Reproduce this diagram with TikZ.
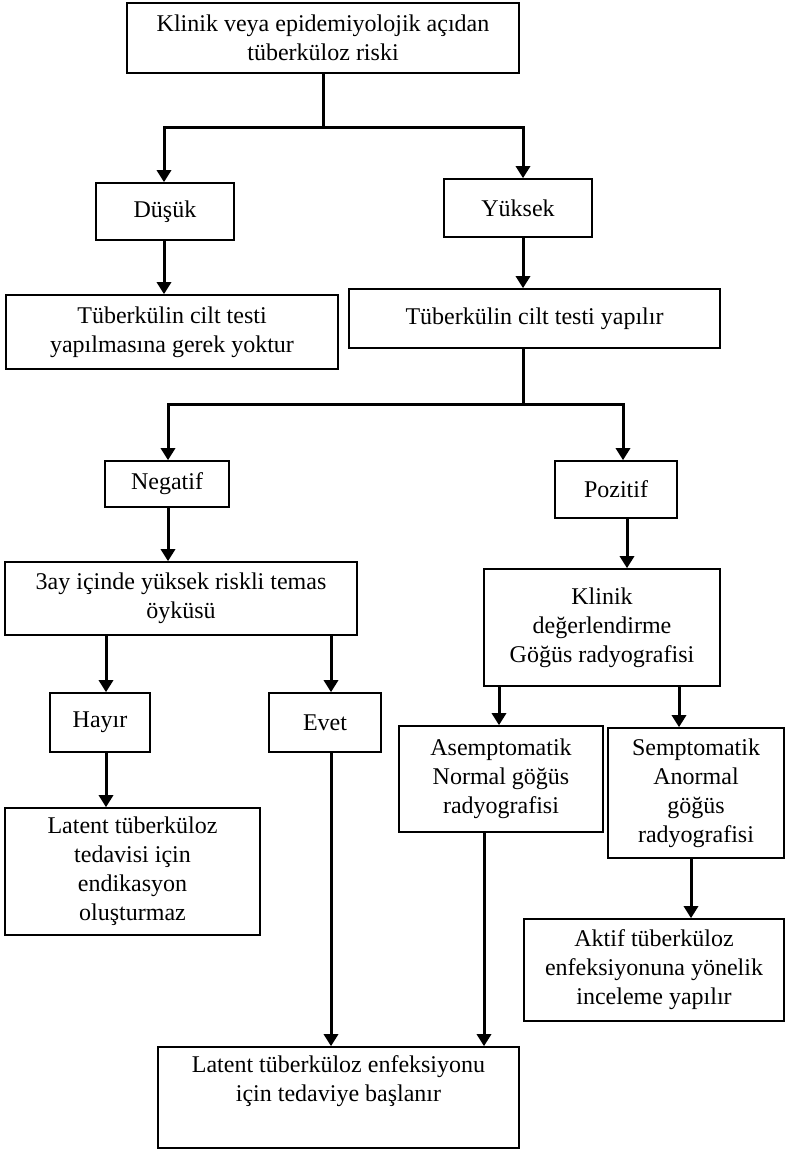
\documentclass[tikz,border=0pt]{standalone}
\usepackage{fontspec}
\setmainfont{Liberation Serif}
\usetikzlibrary{arrows.meta}
\begin{document}
\begin{tikzpicture}[x=0.5pt,y=-0.5pt,
  bx/.style={draw, line width=0.8pt, align=center, inner sep=0pt, font=\fontsize{12}{14.5}\selectfont},
  ln/.style={line width=1.5pt},
  arr/.style={line width=1.5pt, -{Triangle[length=6pt,width=7pt]}}
]
\useasboundingbox (0,0) rectangle (785,1150);

\node[bx, minimum width=196pt, minimum height=35pt] (top) at (323,38) {Klinik veya epidemiyolojik açıdan\\ tüberküloz riski};
\node[bx, minimum width=69pt, minimum height=28.5pt] (dus) at (165,211.5) {Düşük};
\node[bx, minimum width=74pt, minimum height=29pt] (yuk) at (518,208) {Yüksek};
\node[bx, minimum width=166pt, minimum height=37pt] (tst0) at (172,332) {Tüberkülin cilt testi\\ yapılmasına gerek yoktur};
\node[bx, minimum width=185.5pt, minimum height=29.5pt] (tst) at (534.5,318.5) {Tüberkülin cilt testi yapılır};
\node[bx, minimum width=62pt, minimum height=23pt] (neg) at (167,484) {Negatif};
\node[bx, minimum width=61pt, minimum height=28.5pt] (poz) at (616,489.5) {Pozitif};
\node[bx, minimum width=176pt, minimum height=36.5pt] (ay) at (181,598.5) {3ay içinde yüksek riskli temas\\ öyküsü};
\node[bx, minimum width=118pt, minimum height=58.5pt] (klin) at (602,627.5) {Klinik\\ değerlendirme\\ Göğüs radyografisi};
\node[bx, minimum width=50pt, minimum height=29.5pt] (hay) at (100,722.5) {Hayır};
\node[bx, minimum width=56pt, minimum height=29.5pt] (evt) at (325,722.5) {Evet};
\node[bx, minimum width=102pt, minimum height=53pt] (asm) at (501,779) {Asemptomatik\\ Normal göğüs\\ radyografisi};
\node[bx, minimum width=88pt, minimum height=65pt] (sem) at (696,793) {Semptomatik\\ Anormal\\ göğüs\\ radyografisi};
\node[bx, minimum width=127.5pt, minimum height=63.5pt] (lat) at (132.5,871.5) {Latent tüberküloz\\ tedavisi için\\ endikasyon\\ oluşturmaz};
\node[bx, minimum width=130pt, minimum height=51pt] (akt) at (654,970) {Aktif tüberküloz\\ enfeksiyonuna yönelik\\ inceleme yapılır};
\node[bx, minimum width=180.5pt, minimum height=50.5pt] (fin) at (338.5,1097.5) {Latent tüberküloz enfeksiyonu\\ için tedaviye başlanır\\ \strut};

\coordinate (b1) at (164,128);
\coordinate (b2) at (523,128);
\draw[ln] (top.south) -- (top.south |- b1);
\draw[arr] (b2) -- (b1) -- (b1 |- dus.north);
\draw[arr] (b1) -- (b2) -- (b2 |- yuk.north);

\coordinate (xd) at (164,0);
\draw[arr] (dus.south -| xd) -- (tst0.north -| xd);
\coordinate (xy) at (523,0);
\draw[arr] (yuk.south -| xy) -- (tst.north -| xy);

\coordinate (c0) at (523,404);
\coordinate (c1) at (168,404);
\coordinate (c2) at (623,404);
\draw[ln] (tst.south -| c0) -- (c0);
\draw[arr] (c2) -- (c1) -- (c1 |- neg.north);
\draw[arr] (c1) -- (c2) -- (c2 |- poz.north);
\draw[arr] (neg.south -| c1) -- (ay.north -| c1);
\coordinate (xp) at (627,0);
\draw[arr] (poz.south -| xp) -- (klin.north -| xp);

\coordinate (xh) at (106,0);
\coordinate (xe) at (331,0);
\draw[arr] (ay.south -| xh) -- (hay.north -| xh);
\draw[arr] (ay.south -| xe) -- (evt.north -| xe);
\draw[arr] (hay.south -| xh) -- (lat.north -| xh);
\draw[arr] (evt.south -| xe) -- (fin.north -| xe);

\coordinate (xa) at (499,0);
\coordinate (xs) at (679,0);
\draw[arr] (klin.south -| xa) -- (asm.north -| xa);
\draw[arr] (klin.south -| xs) -- (sem.north -| xs);
\coordinate (xb) at (484,0);
\coordinate (xk) at (691,0);
\draw[arr] (asm.south -| xb) -- (fin.north -| xb);
\draw[arr] (sem.south -| xk) -- (akt.north -| xk);
\end{tikzpicture}
\end{document}
